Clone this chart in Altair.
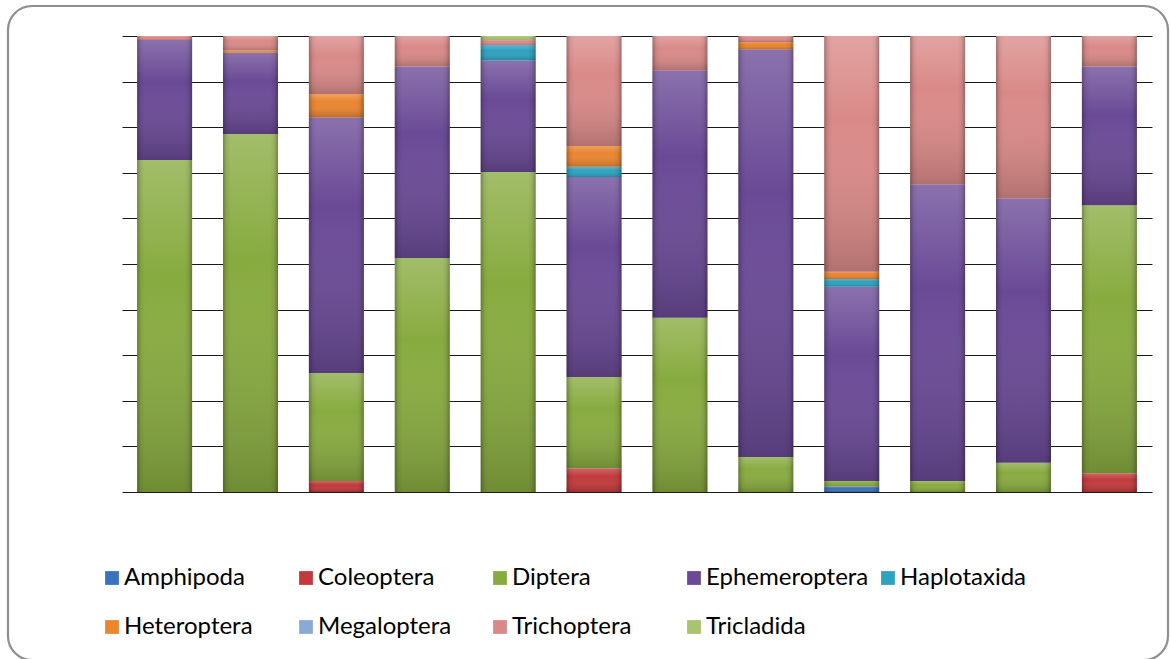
import altair as alt
import pandas as pd

# Sampling sites (12 bars) and taxa, bottom of the stack first
sites = [f"S{i}" for i in range(1, 13)]
taxa = ["Amphipoda", "Coleoptera", "Diptera", "Ephemeroptera", "Haplotaxida",
        "Heteroptera", "Megaloptera", "Trichoptera", "Tricladida"]
colors = ["#3A72BE", "#C23A3C", "#88AB40", "#6A4A96", "#2EA2C0",
          "#EA8530", "#8AA9D4", "#D98A88", "#A9C46E"]

# Relative abundance (%) per site
amphipoda     = [0,    0,    0,    0,    0,    0,    0,    0,    1.2,  0,    0,    0]
coleoptera    = [0,    0,    2.4,  0,    0,    5.2,  0,    0,    0,    0,    0,    4.1]
diptera       = [72.8, 78.5, 23.7, 51.3, 70.2, 20.0, 38.2, 7.7,  1.2,  2.4,  6.4,  58.8]
ephemeroptera = [26.3, 17.8, 56.1, 42.0, 24.4, 43.9, 54.3, 89.4, 42.6, 65.1, 58.0, 30.4]
haplotaxida   = [0,    0,    0,    0,    3.4,  2.2,  0,    0,    1.7,  0,    0,    0]
heteroptera   = [0,    0.5,  5.1,  0,    0,    4.6,  0,    1.6,  1.6,  0,    0,    0]
megaloptera   = [0,    0,    0,    0,    0,    0,    0,    0,    0,    0,    0,    0]
trichoptera   = [0.9,  3.2,  12.7, 6.7,  1.2,  24.1, 7.5,  1.3,  51.7, 32.5, 35.6, 6.7]
tricladida    = [0,    0,    0,    0,    0.8,  0,    0,    0,    0,    0,    0,    0]

series = [amphipoda, coleoptera, diptera, ephemeroptera, haplotaxida,
          heteroptera, megaloptera, trichoptera, tricladida]

rows = []
for k, (name, vals) in enumerate(zip(taxa, series)):
    for site, v in zip(sites, vals):
        rows.append({"site": site, "taxon": name, "rank": k, "pct": v})
df = pd.DataFrame(rows)

x_enc = alt.X("site:N", sort=sites, axis=None,
              scale=alt.Scale(paddingInner=0.358, paddingOuter=0.175))
y_enc = alt.Y("sum(pct):Q", stack="normalize",
              scale=alt.Scale(domain=[0, 1], nice=False),
              axis=alt.Axis(values=[i / 10 for i in range(11)], grid=True,
                            gridColor="#1a1a1a", gridWidth=1.2, gridOpacity=1,
                            domain=False, ticks=False, labels=False, title=None))
order_enc = alt.Order("rank:Q", sort="ascending")

base = alt.Chart(df)

bars = base.mark_bar(size=55).encode(
    x=x_enc,
    y=y_enc,
    color=alt.Color("taxon:N", sort=taxa,
                    scale=alt.Scale(domain=taxa, range=colors),
                    legend=alt.Legend(
                        title=None, orient="none", direction="horizontal",
                        columns=5, legendX=-22, legendY=530,
                        symbolType="square", symbolSize=190,
                        symbolStrokeWidth=0, symbolOpacity=1,
                        labelFont="Lato", labelFontSize=24, labelColor="#000000",
                        labelOffset=0, labelLimit=400,
                        gridAlign="all", columnPadding=7, rowPadding=25)),
    order=order_enc,
)

# Shading overlay: light top, darker bottom on every segment
shade = base.mark_bar(size=55).encode(
    x=x_enc,
    y=alt.Y("sum(pct):Q", stack="normalize"),
    detail="taxon:N",
    order=order_enc,
    color=alt.value({
        "gradient": "linear", "x1": 0, "y1": 0, "x2": 0, "y2": 1,
        "stops": [
            {"offset": 0, "color": "rgba(255,255,255,0.22)"},
            {"offset": 0.35, "color": "rgba(255,255,255,0.0)"},
            {"offset": 1, "color": "rgba(0,0,0,0.18)"},
        ],
    }),
)

# Darker vertical edges on each bar
edges = base.mark_bar(size=55).encode(
    x=x_enc,
    y=alt.Y("sum(pct):Q", stack="normalize"),
    detail="taxon:N",
    order=order_enc,
    color=alt.value({
        "gradient": "linear", "x1": 0, "y1": 0, "x2": 1, "y2": 0,
        "stops": [
            {"offset": 0, "color": "rgba(0,0,0,0.28)"},
            {"offset": 0.07, "color": "rgba(0,0,0,0.06)"},
            {"offset": 0.14, "color": "rgba(0,0,0,0.0)"},
            {"offset": 0.86, "color": "rgba(0,0,0,0.0)"},
            {"offset": 0.93, "color": "rgba(0,0,0,0.06)"},
            {"offset": 1, "color": "rgba(0,0,0,0.28)"},
        ],
    }),
)

# Rounded outer frame around the whole chart
frame = alt.Chart(pd.DataFrame({"f": [0]})).mark_rect(
    cornerRadius=24, fill=None, stroke="#8E8E8E", strokeWidth=2.2
).encode(
    x=alt.value(-114), x2=alt.value(1046),
    y=alt.value(-30), y2=alt.value(624),
)

chart = alt.layer(frame, bars, shade, edges).properties(
    width=1030, height=456,
    padding={"left": 122, "top": 36, "right": 18, "bottom": 167},
    autosize=alt.AutoSizeParams(type="none"),
    background="#FFFFFF",
).configure_view(stroke=None)

chart.save("out.html", embed_options={"renderer": "svg", "actions": False})
